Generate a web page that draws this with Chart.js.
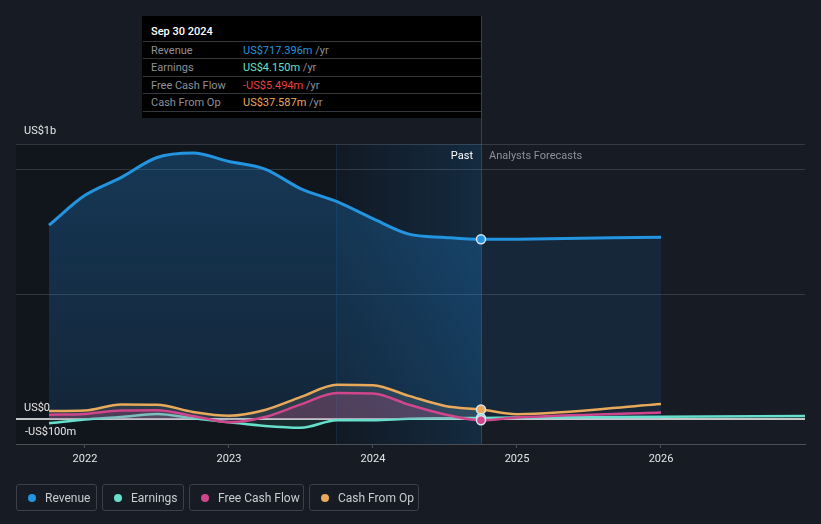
<!DOCTYPE html>
<html><head><meta charset="utf-8">
<script src="https://cdn.jsdelivr.net/npm/chart.js@4/dist/chart.umd.min.js"></script>
<style>
html,body{margin:0;padding:0;background:#161b24;}
#wrap{position:relative;width:821px;height:524px;overflow:hidden;font-family:Roboto,"Noto Sans",sans-serif;}
canvas{position:absolute;left:0;top:0;}
.lab{position:absolute;font-size:11px;line-height:14px;white-space:nowrap;}
#tip{position:absolute;left:142px;top:16px;width:339px;height:102px;background:#000;font-size:11px;}
#tip .title{position:absolute;left:9px;top:9px;line-height:14px;color:#fff;font-weight:500;}
#tip .row{position:absolute;left:1px;right:0;height:17px;border-top:1px solid #34373c;line-height:17px;color:#8d9197;}
#tip .row span.k{position:absolute;left:8px;}
#tip .row span.v{position:absolute;left:100px;}
#tip .row span.u{color:#8d9197;}
#tip .end{position:absolute;left:1px;right:0;top:95px;border-top:1px solid #34373c;}
#legend{position:absolute;left:16px;top:484px;display:flex;gap:5px;}
#legend .it{box-sizing:border-box;height:27px;border:1px solid #3b4049;border-radius:3px;display:flex;align-items:center;padding-left:11px;color:#c9ccd1;font-size:12px;}
#legend .dot{width:8px;height:8px;border-radius:50%;margin-right:9px;}
</style></head><body>
<div id="wrap">
<canvas id="c" width="821" height="524"></canvas>
<div class="lab" style="left:24px;top:124px;color:#e6e6e6">US$1b</div>
<div class="lab" style="left:24px;top:401px;color:#e6e6e6">US$0</div>
<div class="lab" style="left:25px;top:425px;color:#e6e6e6">-US$100m</div>
<div class="lab" style="right:348px;top:149px;color:#fff">Past</div>
<div class="lab" style="left:489px;top:149px;color:#8c9199">Analysts Forecasts</div>
<div id="tip">
  <div class="title">Sep 30 2024</div>
  <div class="row" style="top:25px"><span class="k">Revenue</span><span class="v"><span style="color:#2394df">US$717.396m</span> <span class="u">/yr</span></span></div>
  <div class="row" style="top:42px"><span class="k">Earnings</span><span class="v"><span style="color:#66e0cc">US$4.150m</span> <span class="u">/yr</span></span></div>
  <div class="row" style="top:60px"><span class="k">Free Cash Flow</span><span class="v"><span style="color:#e8413f">-US$5.494m</span> <span class="u">/yr</span></span></div>
  <div class="row" style="top:77px"><span class="k">Cash From Op</span><span class="v"><span style="color:#e8a95b">US$37.587m</span> <span class="u">/yr</span></span></div>
  <div class="end"></div>
</div>
<div id="legend">
  <div class="it" style="width:81px"><span class="dot" style="background:#2394df"></span>Revenue</div>
  <div class="it" style="width:82px"><span class="dot" style="background:#66e0cc"></span>Earnings</div>
  <div class="it" style="width:115px"><span class="dot" style="background:#d0468c"></span>Free Cash Flow</div>
  <div class="it" style="width:110px"><span class="dot" style="background:#e8a95b"></span>Cash From Op</div>
</div>
</div>
<script>
// ---- data (US$ millions, trailing twelve months) ----
const pastDates = [2021.75, 2022.0, 2022.25, 2022.5, 2022.75, 2023.0, 2023.25, 2023.5, 2023.75, 2024.0, 2024.25, 2024.5, 2024.75];
const revenuePast  = [774, 893, 964, 1044, 1062, 1028, 998, 919, 868, 800, 738, 725, 717.396];
const earningsPast = [-17, -2, 8, 20, 3, -13, -28, -35, -5, -5, 1, 3, 4.150];
const fcfPast      = [17, 20, 34, 35, 12, -13, 8, 58, 104, 102, 57, 18, -5.494];
const cfoPast      = [32, 34, 58, 57, 28, 13, 36, 88, 137, 135, 92, 52, 37.587];

const revenueForecastDates  = [2025.0, 2026.0];
const revenueForecast       = [718, 726];
const earningsForecastDates = [2025.0, 2026.0, 2027.0];
const earningsForecast      = [6, 9, 12];
const fcfForecastDates      = [2025.0, 2026.0];
const fcfForecast           = [6, 26];
const cfoForecastDates      = [2025.0, 2026.0];
const cfoForecast           = [19, 60];

const xTickValues = [2022, 2023, 2024, 2025, 2026];
const gridValues = [500, 1000];
const pastBandStart = 2023.743;
const lastReported = 2024.75;
const xMin = 2021.521, xMax = 2027.0;
const yMin = -100, yMax = 1098;

function pts(dates, vals){ return dates.map((d,i)=>({x:d, y:vals[i]})); }

function series(label, color, dates, vals, fillPast, fillFuture, width, order){
  return {
    label, order,
    data: pts(dates, vals),
    borderColor: color, borderWidth: width,
    fill: 'origin',
    backgroundColor: fillPast,
    segment: { backgroundColor: c => c.p0.parsed.x >= lastReported - 0.001 ? fillFuture : undefined },
    cubicInterpolationMode: 'monotone',
    pointRadius: dates.map(d => Math.abs(d - lastReported) < 0.001 ? 4.5 : 0),
    pointHoverRadius: 0,
    pointBackgroundColor: color,
    pointBorderColor: '#dbe4ec',
    pointBorderWidth: 1.5
  };
}

const bgPlugin = {
  id: 'bg',
  beforeDatasetsDraw(chart){
    const {ctx, chartArea:a, scales:{x, y}} = chart;
    ctx.save();
    const b0 = x.getPixelForValue(pastBandStart), b1 = x.getPixelForValue(lastReported);
    ctx.fillStyle = 'rgba(0,0,0,0.2)';
    ctx.fillRect(a.left, a.top, b1 - a.left, a.bottom - a.top);
    const g = ctx.createLinearGradient(b0, 0, b1, 0);
    g.addColorStop(0, 'rgba(33,150,243,0.03)');
    g.addColorStop(1, 'rgba(33,150,243,0.17)');
    ctx.fillStyle = g;
    ctx.fillRect(b0, a.top, b1 - b0, a.bottom - a.top);
    ctx.strokeStyle = 'rgba(33,150,243,0.12)';
    ctx.lineWidth = 1;
    ctx.beginPath(); ctx.moveTo(Math.round(b0)+0.5, a.top); ctx.lineTo(Math.round(b0)+0.5, a.bottom); ctx.stroke();
    ctx.strokeStyle = 'rgba(255,255,255,0.14)';
    const lines = [a.top].concat(gridValues.map(v => y.getPixelForValue(v)));
    lines.forEach(py => { py = Math.round(py) + 0.5; ctx.beginPath(); ctx.moveTo(a.left, py); ctx.lineTo(a.right, py); ctx.stroke(); });
    ctx.strokeStyle = 'rgba(70,120,170,0.45)';
    ctx.beginPath(); ctx.moveTo(Math.round(b1)+0.5, 16); ctx.lineTo(Math.round(b1)+0.5, a.bottom); ctx.stroke();
    ctx.strokeStyle = '#ffffff';
    ctx.lineWidth = 1.5;
    const zy = Math.round(y.getPixelForValue(0));
    ctx.beginPath(); ctx.moveTo(a.left, zy); ctx.lineTo(a.right, zy); ctx.stroke();
    ctx.restore();
  }
};

const ctx = document.getElementById('c').getContext('2d');
const revGrad = ctx.createLinearGradient(0, 144, 0, 419);
revGrad.addColorStop(0, 'rgba(33,150,243,0.27)');
revGrad.addColorStop(1, 'rgba(33,150,243,0.13)');
const revFuture = 'rgba(33,150,243,0.10)';

new Chart(ctx, {
  type: 'line',
  data: { datasets: [
    series('Revenue', '#2394df', pastDates.concat(revenueForecastDates), revenuePast.concat(revenueForecast), revGrad, revFuture, 3, 10),
    series('Earnings', '#66e0cc', pastDates.concat(earningsForecastDates), earningsPast.concat(earningsForecast), 'rgba(102,224,204,0.10)', 'rgba(102,224,204,0.03)', 2.5, 2),
    series('Free Cash Flow', '#d0468c', pastDates.concat(fcfForecastDates), fcfPast.concat(fcfForecast), 'rgba(208,70,140,0.22)', 'rgba(0,0,0,0)', 2.5, 1),
    series('Cash From Op', '#e8a95b', pastDates.concat(cfoForecastDates), cfoPast.concat(cfoForecast), 'rgba(190,190,170,0.14)', 'rgba(0,0,0,0)', 2.5, 3)
  ]},
  options: {
    responsive: false, animation: false, devicePixelRatio: 1,
    layout: { padding: { left: 16, right: 16, top: 144, bottom: 50 } },
    plugins: { legend: { display: false }, tooltip: { enabled: false } },
    events: [],
    scales: {
      x: {
        type: 'linear', min: xMin, max: xMax,
        afterBuildTicks: s => { s.ticks = xTickValues.map(v => ({value: v})); },
        afterFit: s => { s.height = 30; },
        ticks: { color: '#e6e6e6', font: { family: 'Roboto', size: 11 }, padding: 5, callback: v => String(v), maxRotation: 0, autoSkip: false },
        grid: { drawOnChartArea: false, drawTicks: true, tickLength: 4, color: '#4a4f58' },
        border: { color: '#4a4f58' }
      },
      y: { type: 'linear', min: yMin, max: yMax, display: false }
    }
  },
  plugins: [bgPlugin]
});
</script>
</body></html>
